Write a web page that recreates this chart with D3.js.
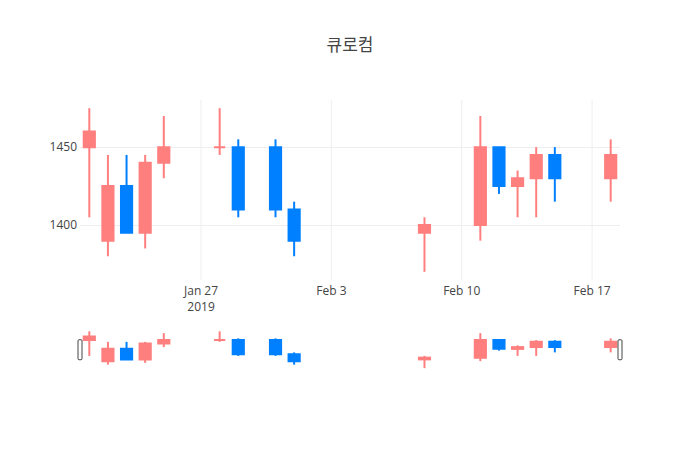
<!DOCTYPE html>
<html>
<head>
<meta charset="utf-8">
<script src="https://cdn.jsdelivr.net/npm/d3@7"></script>
<style>
  body { margin: 0; background: #fff; }
  text { font-family: "Open Sans", "Noto Sans CJK KR", sans-serif; }
</style>
</head>
<body>
<div id="chart"></div>
<script>
// daily prices, 2019
var dates = ["2019-01-21", "2019-01-22", "2019-01-23", "2019-01-24", "2019-01-25",
    "2019-01-28", "2019-01-29", "2019-01-31", "2019-02-01", "2019-02-08",
    "2019-02-11", "2019-02-12", "2019-02-13", "2019-02-14", "2019-02-15", "2019-02-18"];
var opens  = [1450, 1390, 1425, 1395, 1440, 1450, 1450, 1450, 1410, 1395, 1400, 1450, 1425, 1430, 1445, 1430];
var highs  = [1475, 1445, 1445, 1445, 1470, 1475, 1455, 1455, 1415, 1405, 1470, 1450, 1435, 1450, 1450, 1455];
var lows   = [1405, 1380, 1395, 1385, 1430, 1445, 1405, 1405, 1380, 1370, 1390, 1420, 1405, 1405, 1415, 1415];
var closes = [1460, 1425, 1395, 1440, 1450, 1450, 1410, 1410, 1390, 1400, 1450, 1425, 1430, 1445, 1430, 1445];

var xTicks = ["2019-01-27", "2019-02-03", "2019-02-10", "2019-02-17"];
var yTicks = [1400, 1450];

var upColor = "#ff7f7f",
    downColor = "#0080ff";

var width = 700,
    height = 450;
// plot area: main chart and range slider below it
var plotLeft = 80, plotRight = 620, plotTop = 100, mainBottom = 280;
var sliderTop = 329.5, sliderBottom = 370;

var parse = d3.utcParse("%Y-%m-%d");
var day = 24 * 3600 * 1000;

// build rows and decide direction (equal open/close keeps previous direction)
var rows = [];
var prevUp = true;
for (var i = 0; i < dates.length; i++) {
    var up;
    if (closes[i] > opens[i]) up = true;
    else if (closes[i] < opens[i]) up = false;
    else if (i > 0 && closes[i] != closes[i - 1]) up = closes[i] > closes[i - 1];
    else up = prevUp;
    prevUp = up;
    rows.push({date: parse(dates[i]), o: opens[i], h: highs[i], l: lows[i], c: closes[i], up: up});
}

var x = d3.scaleUtc()
    .domain([new Date(rows[0].date.getTime() - day / 2),
             new Date(rows[rows.length - 1].date.getTime() + day / 2)])
    .range([plotLeft, plotRight]);

var lo = d3.min(lows), hi = d3.max(highs);
var pad = (hi - lo) * 0.05;
var y = d3.scaleLinear().domain([lo - pad, hi + pad]).range([mainBottom, plotTop]);
var ys = d3.scaleLinear().domain([lo - pad, hi + pad]).range([sliderBottom, sliderTop]);

var bodyW = (x(parse("2019-01-22")) - x(parse("2019-01-21"))) * 0.6;

var svg = d3.select("#chart").append("svg")
    .attr("width", width)
    .attr("height", height);

svg.append("rect").attr("width", width).attr("height", height).attr("fill", "#fff");

// title
svg.append("text")
    .attr("x", width / 2)
    .attr("y", 51)
    .attr("text-anchor", "middle")
    .style("font-family", "'Noto Sans CJK KR', sans-serif")
    .style("font-size", "17px")
    .attr("fill", "#444")
    .text("큐로컴");

// grid
var grid = svg.append("g");
grid.selectAll(".gx")
    .data(xTicks)
    .enter().append("line")
    .attr("x1", function (d) { return x(parse(d)); })
    .attr("x2", function (d) { return x(parse(d)); })
    .attr("y1", plotTop)
    .attr("y2", mainBottom)
    .attr("stroke", "#eee")
    .attr("stroke-width", 1);
grid.selectAll(".gy")
    .data(yTicks)
    .enter().append("line")
    .attr("x1", plotLeft)
    .attr("x2", plotRight)
    .attr("y1", function (d) { return Math.round(y(d)) + 0.5; })
    .attr("y2", function (d) { return Math.round(y(d)) + 0.5; })
    .attr("stroke", "#eee")
    .attr("stroke-width", 1);

// y tick labels
svg.append("g").selectAll("text")
    .data(yTicks)
    .enter().append("text")
    .attr("x", plotLeft - 3)
    .attr("y", function (d) { return y(d); })
    .attr("dy", "0.35em")
    .attr("text-anchor", "end")
    .style("font-size", "12px")
    .attr("fill", "#444")
    .text(function (d) { return d; });

// x tick labels (year shown under the first one)
var fmt = d3.utcFormat("%b %-d");
var xg = svg.append("g");
xg.selectAll(".xl")
    .data(xTicks)
    .enter().append("text")
    .attr("x", function (d) { return x(parse(d)); })
    .attr("y", 295)
    .attr("text-anchor", "middle")
    .style("font-size", "12px")
    .attr("fill", "#444")
    .text(function (d) { return fmt(parse(d)); });
xg.append("text")
    .attr("x", x(parse(xTicks[0])))
    .attr("y", 311)
    .attr("text-anchor", "middle")
    .style("font-size", "12px")
    .attr("fill", "#444")
    .text("2019");

// candles, drawn in the main plot and again in the range slider
function drawCandles(g, yScale) {
    var c = g.selectAll("g")
        .data(rows)
        .enter().append("g");
    c.append("line")
        .attr("x1", function (d) { return x(d.date); })
        .attr("x2", function (d) { return x(d.date); })
        .attr("y1", function (d) { return yScale(d.h); })
        .attr("y2", function (d) { return yScale(d.l); })
        .attr("stroke", function (d) { return d.up ? upColor : downColor; })
        .attr("stroke-width", 2);
    c.append("path")
        .attr("d", function (d) {
            var x0 = x(d.date) - bodyW / 2, x1 = x(d.date) + bodyW / 2;
            var y0 = yScale(Math.max(d.o, d.c)), y1 = yScale(Math.min(d.o, d.c));
            return "M" + x0 + "," + y0 + "H" + x1 + "V" + y1 + "H" + x0 + "Z";
        })
        .attr("fill", function (d) { return d.up ? upColor : downColor; })
        .attr("stroke", function (d) { return d.up ? upColor : downColor; })
        .attr("stroke-width", 2);
}

drawCandles(svg.append("g"), y);
drawCandles(svg.append("g"), ys);

// range slider grabbers
var midS = (sliderTop + sliderBottom) / 2;
svg.append("g").selectAll("rect")
    .data([plotLeft, plotRight])
    .enter().append("rect")
    .attr("x", function (d) { return d - 2; })
    .attr("y", midS - 10)
    .attr("width", 4)
    .attr("height", 20)
    .attr("rx", 1)
    .attr("fill", "#fff")
    .attr("stroke", "#444")
    .attr("stroke-width", 1);
</script>
</body>
</html>
